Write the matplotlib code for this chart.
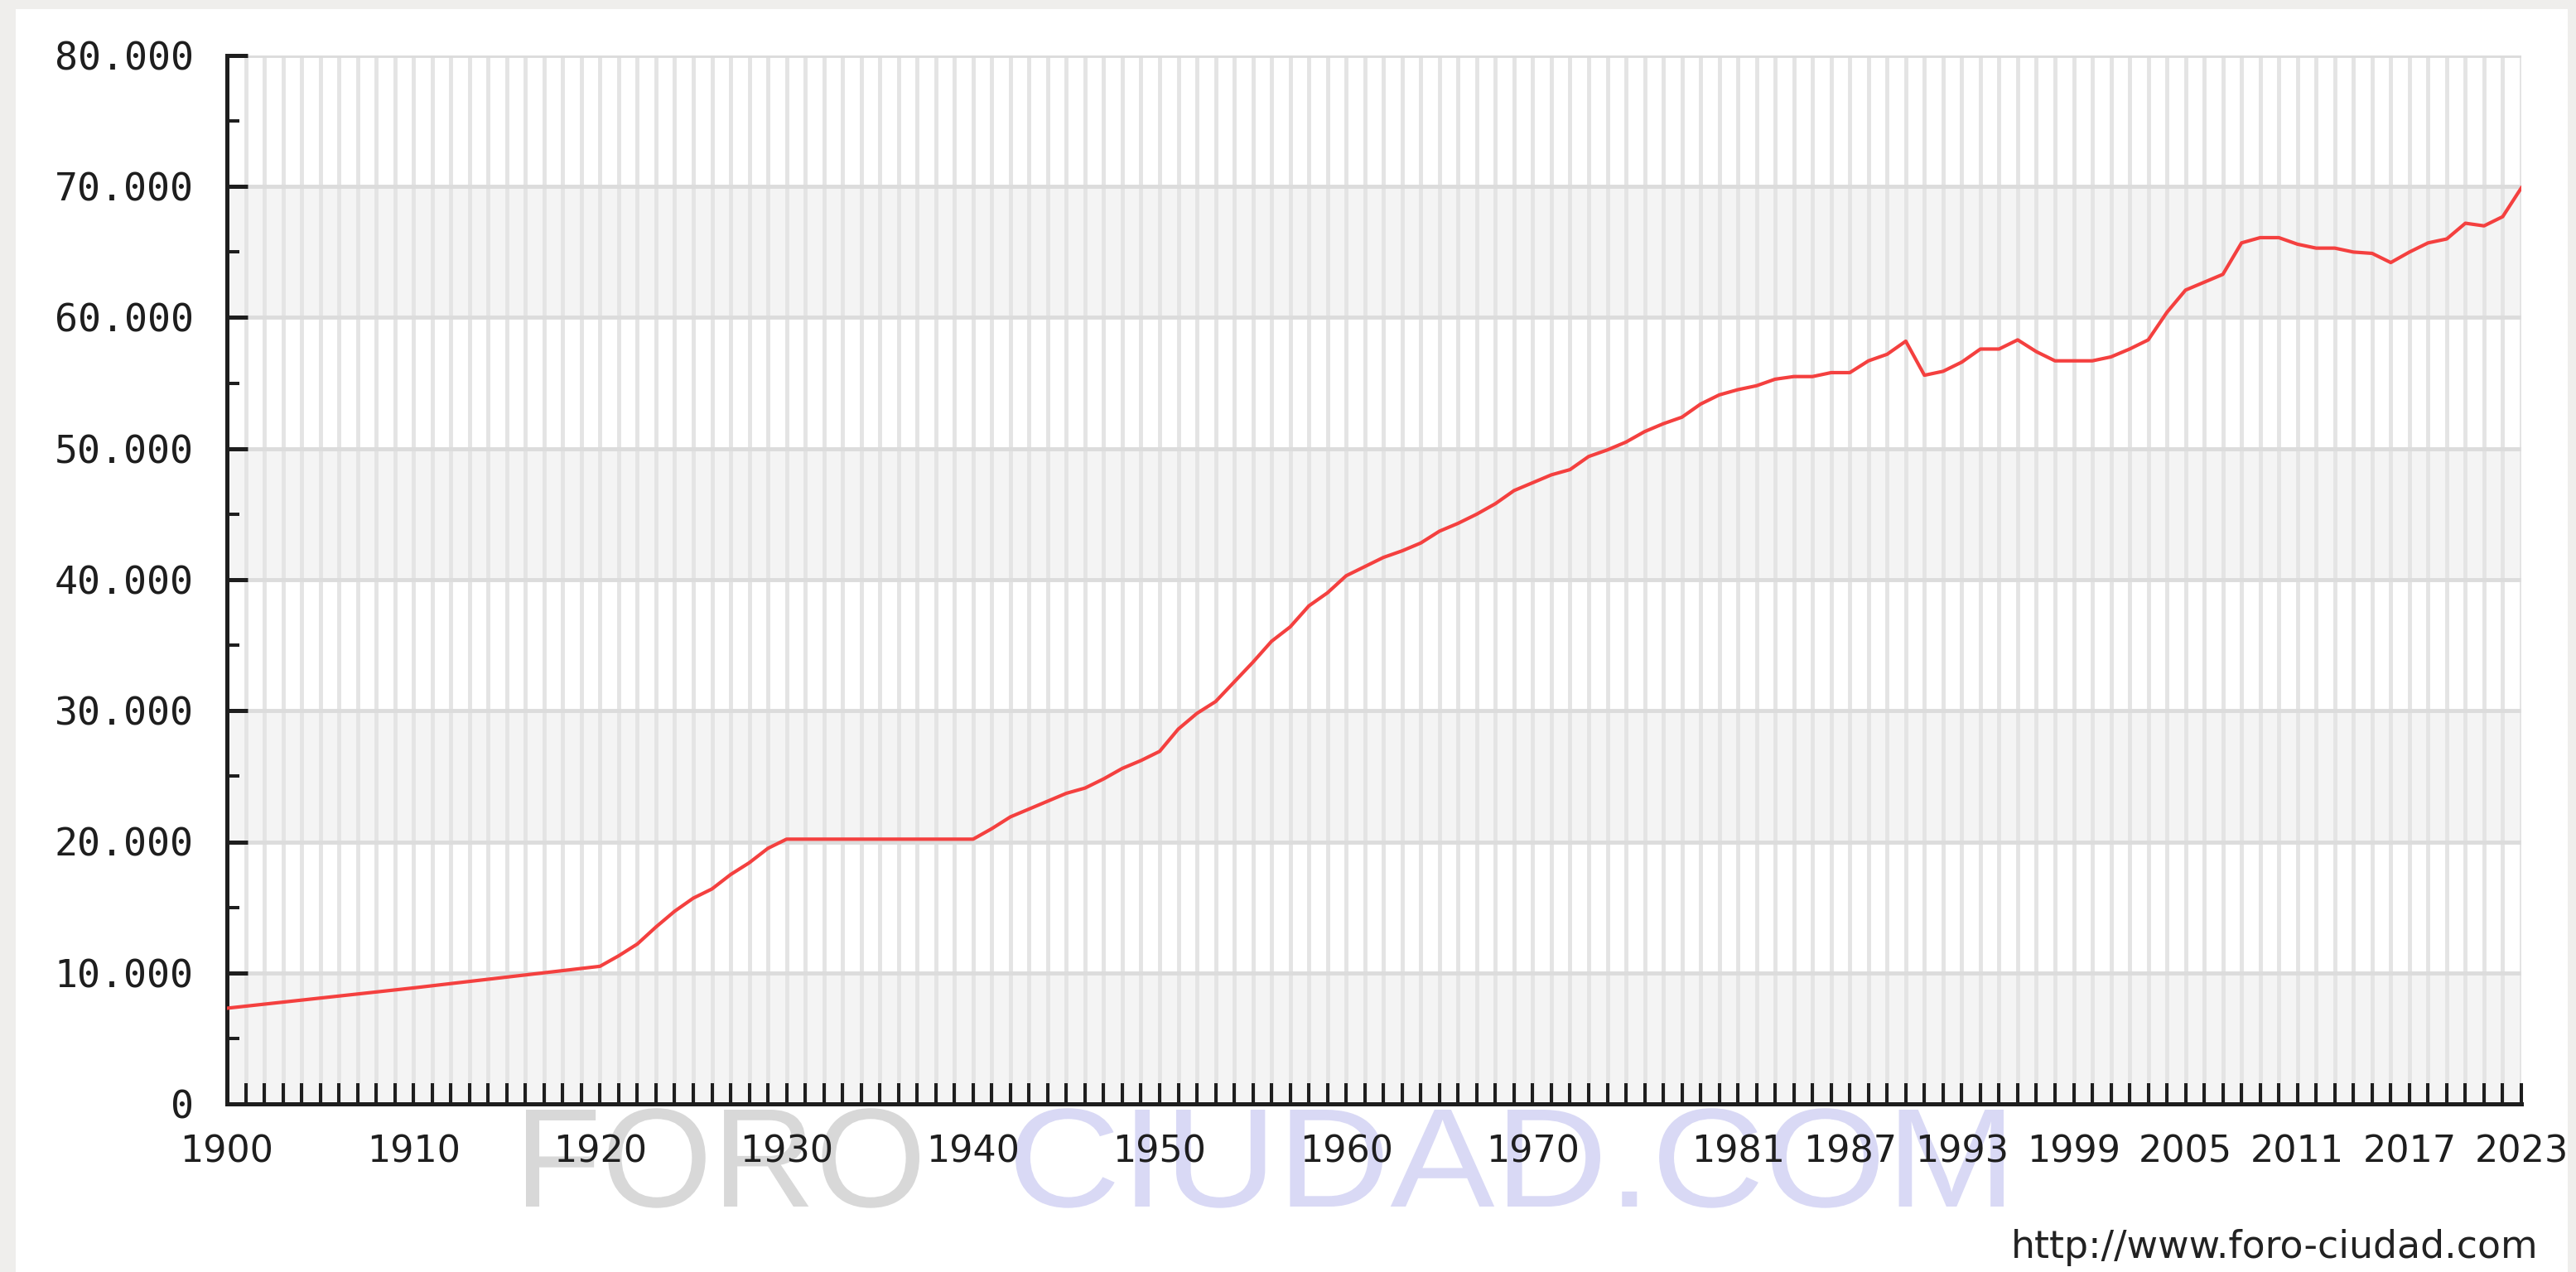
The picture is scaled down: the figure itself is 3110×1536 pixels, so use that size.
import matplotlib
matplotlib.use("Agg")
import matplotlib.pyplot as plt
from matplotlib.patches import Rectangle, PathPatch
from matplotlib.textpath import TextPath
from matplotlib.font_manager import FontProperties
from matplotlib.transforms import Affine2D, IdentityTransform
from matplotlib.ticker import FixedLocator, FuncFormatter, MultipleLocator

# population by year
years = [1900, 1910, 1920, 1921, 1922, 1923, 1924, 1925, 1926, 1927, 1928, 1929,
         1930, 1940, 1941, 1942, 1943, 1944, 1945, 1946, 1947, 1948, 1949,
         1950, 1951, 1952, 1953, 1954, 1955, 1956, 1957, 1958, 1959,
         1960, 1961, 1962, 1963, 1964, 1965, 1966, 1967, 1968, 1969,
         1970, 1971, 1972, 1973, 1974, 1975, 1976, 1977, 1978, 1979,
         1980, 1981, 1982, 1983, 1984, 1985, 1986, 1987, 1988, 1989,
         1990, 1991, 1992, 1993, 1994, 1995, 1996, 1997, 1998, 1999,
         2000, 2001, 2002, 2003, 2004, 2005, 2006, 2007, 2008, 2009,
         2010, 2011, 2012, 2013, 2014, 2015, 2016, 2017, 2018, 2019,
         2020, 2021, 2022, 2023]
population = [7300, 8850, 10500, 11300, 12200, 13500, 14700, 15700, 16400, 17500, 18400, 19500,
              20200, 20200, 21000, 21900, 22500, 23100, 23700, 24100, 24800, 25600, 26200,
              26900, 28600, 29800, 30700, 32200, 33700, 35300, 36400, 38000, 39000,
              40300, 41000, 41700, 42200, 42800, 43700, 44300, 45000, 45800, 46800,
              47400, 48000, 48400, 49400, 49900, 50500, 51300, 51900, 52400, 53400,
              54100, 54500, 54800, 55300, 55500, 55500, 55800, 55800, 56700, 57200,
              58200, 55600, 55900, 56600, 57600, 57600, 58300, 57400, 56700, 56700,
              56700, 57000, 57600, 58300, 60400, 62100, 62700, 63300, 65700, 66100,
              66100, 65600, 65300, 65300, 65000, 64900, 64200, 65000, 65700, 66000,
              67200, 67000, 67700, 69900]

label_years = [1900, 1910, 1920, 1930, 1940, 1950, 1960, 1970,
               1981, 1987, 1993, 1999, 2005, 2011, 2017, 2023]
tick_years = list(range(1900, 2024))

W, H = 3110, 1536
fig = plt.figure(figsize=(W / 100, H / 100), dpi=100, facecolor="#efeeec")
fig.patches.append(Rectangle((19 / W, 0), (3100 - 19) / W, 1 - 11 / H,
                             transform=fig.transFigure, facecolor="white",
                             edgecolor="none", zorder=-2))


def watermark(s, left, right, top, bottom, color):
    # stretch the glyph outlines to fill the box (pixels, measured from the top)
    path = TextPath((0, 0), s, size=100, prop=FontProperties(family="Liberation Sans"))
    ext = path.get_extents()
    sx = (right - left) / ext.width
    sy = (bottom - top) / TextPath((0, 0), "F", size=100,
                                   prop=FontProperties(family="Liberation Sans")).get_extents().height
    tr = Affine2D().translate(-ext.x0, 0).scale(sx, sy).translate(left, H - bottom)
    fig.add_artist(PathPatch(tr.transform_path(path), transform=IdentityTransform(),
                             facecolor=color, edgecolor="none", zorder=-1))


watermark("FORO", 635, 1110, 1340, 1457, "#d8d8d8")
watermark("CIUDAD.COM", 1226, 2419, 1340, 1457, "#d9d9f5")

ax = fig.add_axes([274 / W, 1 - 1333 / H, (3044 - 274) / W, (1333 - 67) / H])
ax.set_zorder(1)
ax.set_facecolor("white")
ax.set_xlim(1900, 2023)
ax.set_ylim(0, 80000)

# alternating horizontal bands
for lo in range(0, 80000, 20000):
    ax.axhspan(lo, lo + 10000, color="#f4f4f4", lw=0, zorder=0)

ax.plot(years, population, color="#f4403f", lw=3, zorder=3,
        solid_joinstyle="round")

ax.xaxis.set_major_locator(FixedLocator(tick_years))
ax.xaxis.set_major_formatter(FuncFormatter(
    lambda v, p: str(int(round(v))) if int(round(v)) in label_years else ""))
ax.yaxis.set_major_locator(MultipleLocator(10000))
ax.yaxis.set_minor_locator(MultipleLocator(5000))
ax.yaxis.set_major_formatter(FuncFormatter(lambda v, p: f"{int(v):,}".replace(",", ".")))

ax.grid(axis="x", which="major", color="#e4e4e4", lw=3.5, zorder=1)
ax.grid(axis="y", which="major", color="#dcdcdc", lw=3.5, zorder=1)
ax.set_axisbelow(True)

for s in ["top", "right"]:
    ax.spines[s].set_visible(False)
for s in ["left", "bottom"]:
    ax.spines[s].set_linewidth(3.6)
    ax.spines[s].set_color("#1e1e1e")

ax.tick_params(axis="x", direction="in", length=18, width=2.9, color="#1e1e1e",
               pad=26, labelsize=32, labelcolor="#1e1e1e")
ax.tick_params(axis="y", which="major", direction="in", length=18, width=3.6,
               color="#1e1e1e", pad=29, labelsize=33.5, labelcolor="#1e1e1e")
ax.tick_params(axis="y", which="minor", direction="in", length=11, width=2.9,
               color="#1e1e1e")
for lab in ax.get_yticklabels():
    lab.set_family("DejaVu Sans Mono")

fig.text(3065 / W, 1 - 1519 / H, "http://www.foro-ciudad.com", fontsize=33,
         color="#222222", ha="right", va="baseline")

fig.savefig("out.png", dpi=100, facecolor=fig.get_facecolor())
